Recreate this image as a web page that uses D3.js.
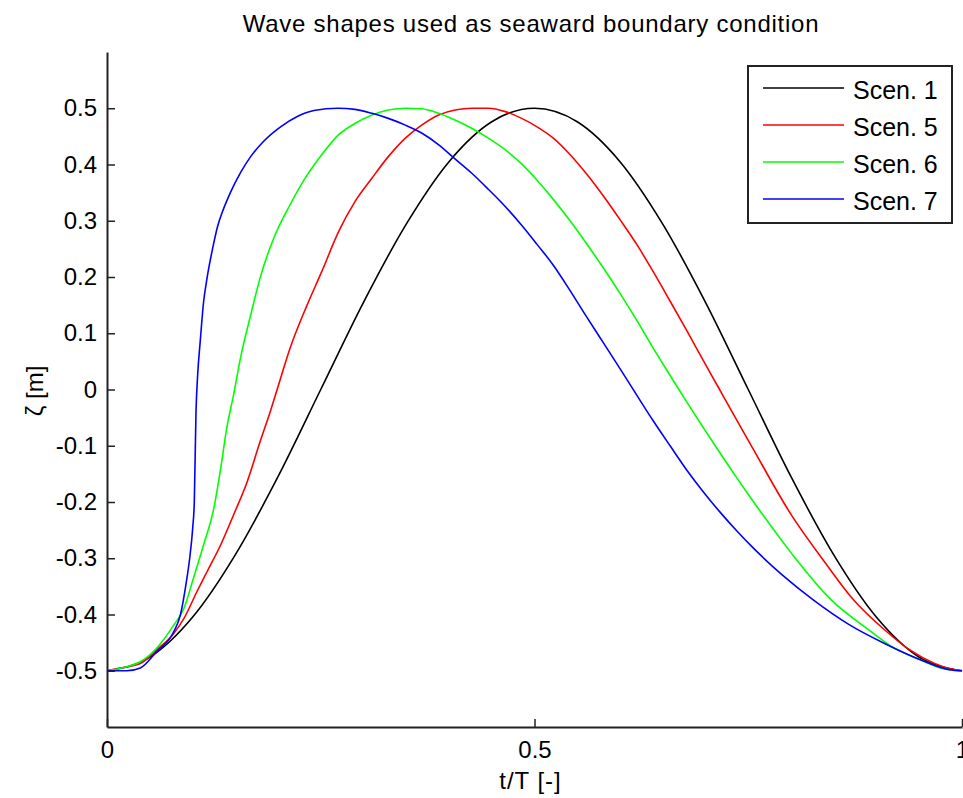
<!DOCTYPE html>
<html lang="en">
  <head>
    <meta charset="UTF-8" />
    <title>Wave shapes used as seaward boundary condition</title>
    <script src="https://d3js.org/d3.v7.min.js"></script>
    <style>
      body { margin: 0; background: #fff; }
      text { font-family: "Liberation Sans", Arial, sans-serif; fill: #000; }
    </style>
  </head>
  <body>
    <div id="viz"></div>
    <script>
      // series: [t/T, zeta]
      const scen1 = [
        [0, -0.5], [0.05, -0.476], [0.1, -0.405], [0.15, -0.294], [0.2, -0.155],
        [0.25, 0], [0.3, 0.155], [0.35, 0.294], [0.4, 0.405], [0.45, 0.476],
        [0.5, 0.5], [0.55, 0.476], [0.6, 0.405], [0.65, 0.294], [0.7, 0.155],
        [0.75, 0], [0.8, -0.155], [0.85, -0.294], [0.9, -0.405], [0.95, -0.476],
        [1, -0.5]
      ];
      const scen5 = [
        [0, -0.5], [0.012, -0.496], [0.039, -0.487], [0.058, -0.463], [0.078, -0.434],
        [0.09, -0.407], [0.105, -0.36], [0.117, -0.324], [0.133, -0.276], [0.148, -0.223],
        [0.164, -0.164], [0.179, -0.093], [0.191, -0.039], [0.199, 0], [0.214, 0.073],
        [0.234, 0.15], [0.251, 0.209], [0.271, 0.281], [0.29, 0.334], [0.31, 0.376],
        [0.329, 0.414], [0.349, 0.447], [0.368, 0.47], [0.388, 0.488], [0.407, 0.497],
        [0.427, 0.5], [0.446, 0.5], [0.466, 0.494], [0.485, 0.482], [0.503, 0.467],
        [0.522, 0.447], [0.542, 0.417], [0.561, 0.383], [0.581, 0.343], [0.6, 0.302],
        [0.62, 0.257], [0.639, 0.209], [0.659, 0.156], [0.678, 0.105], [0.698, 0.05],
        [0.715, 0.004], [0.729, -0.034], [0.745, -0.077], [0.754, -0.101], [0.8, -0.222],
        [0.84, -0.308], [0.872, -0.372], [0.91, -0.428], [0.939, -0.463], [0.968, -0.487],
        [0.985, -0.496], [1, -0.5]
      ];
      const scen6 = [
        [0, -0.5], [0.012, -0.497], [0.023, -0.493], [0.039, -0.484], [0.058, -0.46],
        [0.078, -0.419], [0.09, -0.389], [0.101, -0.336], [0.113, -0.276], [0.125, -0.211],
        [0.133, -0.14], [0.14, -0.069], [0.148, -0.01], [0.156, 0.055], [0.168, 0.132],
        [0.179, 0.198], [0.195, 0.269], [0.214, 0.328], [0.234, 0.381], [0.251, 0.417],
        [0.271, 0.453], [0.29, 0.473], [0.31, 0.488], [0.329, 0.497], [0.349, 0.5],
        [0.368, 0.499], [0.388, 0.491], [0.407, 0.479], [0.427, 0.464], [0.446, 0.447],
        [0.466, 0.426], [0.485, 0.401], [0.503, 0.372], [0.522, 0.338], [0.542, 0.299],
        [0.561, 0.259], [0.581, 0.215], [0.6, 0.171], [0.62, 0.122], [0.639, 0.073],
        [0.659, 0.024], [0.678, -0.022], [0.698, -0.069], [0.717, -0.113], [0.737, -0.158],
        [0.754, -0.195], [0.8, -0.29], [0.847, -0.374], [0.889, -0.425], [0.918, -0.457],
        [0.952, -0.481], [0.977, -0.496], [1, -0.5]
      ];
      const scen7 = [
        [0, -0.5], [0.023, -0.5], [0.039, -0.495], [0.058, -0.466], [0.078, -0.431],
        [0.0858, -0.401], [0.0924, -0.346], [0.0967, -0.3], [0.1002, -0.247], [0.1021, -0.2],
        [0.1041, -0.039], [0.106, 0.025], [0.109, 0.085], [0.113, 0.156], [0.117, 0.198],
        [0.124, 0.254], [0.129, 0.288], [0.1365, 0.322], [0.144, 0.349], [0.156, 0.385],
        [0.168, 0.414], [0.183, 0.441], [0.203, 0.467], [0.222, 0.485], [0.242, 0.496],
        [0.27, 0.5], [0.29, 0.498], [0.31, 0.491], [0.329, 0.482], [0.349, 0.47],
        [0.368, 0.456], [0.388, 0.435], [0.407, 0.41], [0.427, 0.384], [0.446, 0.356],
        [0.466, 0.325], [0.485, 0.292], [0.503, 0.258], [0.522, 0.221], [0.542, 0.175],
        [0.561, 0.129], [0.581, 0.082], [0.6, 0.037], [0.62, -0.011], [0.639, -0.056],
        [0.659, -0.101], [0.678, -0.143], [0.698, -0.183], [0.717, -0.218], [0.737, -0.252],
        [0.754, -0.279], [0.79, -0.33], [0.826, -0.374], [0.868, -0.418], [0.91, -0.452],
        [0.952, -0.481], [0.985, -0.498], [1, -0.5]
      ];

      const seriesNames = ["Scen. 1", "Scen. 5", "Scen. 6", "Scen. 7"];
      const seriesColors = ["#000000", "#ff0000", "#00ff00", "#0000ff"];
      const xTicks = [0, 0.5, 1];
      const yTicks = [-0.5, -0.4, -0.3, -0.2, -0.1, 0, 0.1, 0.2, 0.3, 0.4, 0.5];

      const width = 963, height = 798;
      const plot = { left: 107, right: 962, top: 52, bottom: 727 };

      const svg = d3.select("#viz").append("svg")
        .attr("width", width)
        .attr("height", height);

      const x = d3.scaleLinear().domain([0, 1]).range([plot.left, plot.right]);
      const y = d3.scaleLinear().domain([-0.6, 0.6]).range([plot.bottom, plot.top]);

      const fmt = d => String(+d.toFixed(1));

      // curves
      const line = d3.line()
        .x(d => x(d[0]))
        .y(d => y(d[1]))
        .curve(d3.curveMonotoneX);

      [scen1, scen5, scen6, scen7].forEach((s, i) => {
        svg.append("path")
          .datum(s)
          .attr("fill", "none")
          .attr("stroke", seriesColors[i])
          .attr("stroke-width", 1.6)
          .attr("d", line);
      });

      // axes (ticks point inward, no box)
      const yAxis = svg.append("g")
        .attr("transform", "translate(" + plot.left + ",0)")
        .call(d3.axisLeft(y).tickValues(yTicks).tickFormat(fmt)
          .tickSizeInner(-8).tickSizeOuter(0).tickPadding(10));

      const xAxis = svg.append("g")
        .attr("transform", "translate(0," + plot.bottom + ")")
        .call(d3.axisBottom(x).tickValues(xTicks).tickFormat(fmt)
          .tickSizeInner(-8).tickSizeOuter(0).tickPadding(14));

      [yAxis, xAxis].forEach(a => {
        a.select(".domain").attr("stroke", "#222").attr("stroke-width", 2);
        a.selectAll(".tick line").attr("stroke", "#222").attr("stroke-width", 1.5);
        a.selectAll(".tick text")
          .attr("font-size", 24)
          .attr("fill", "#222")
          .style("font-family", "'Liberation Sans', Arial, sans-serif");
      });

      // title and axis labels
      svg.append("text")
        .attr("x", 531)
        .attr("y", 32)
        .attr("text-anchor", "middle")
        .attr("font-size", 24)
        .style("letter-spacing", "0.75px")
        .text("Wave shapes used as seaward boundary condition");

      svg.append("text")
        .attr("x", (plot.left + plot.right) / 2 - 4)
        .attr("y", 789)
        .attr("text-anchor", "middle")
        .attr("font-size", 24)
        .style("letter-spacing", "1px")
        .text("t/T [-]");

      svg.append("text")
        .attr("transform", "translate(43,391) rotate(-90)")
        .attr("text-anchor", "middle")
        .attr("font-size", 24)
        .text("ζ [m]");

      // legend
      const legend = svg.append("g").attr("transform", "translate(748,66)");
      legend.append("rect")
        .attr("width", 204)
        .attr("height", 157)
        .attr("fill", "#fff")
        .attr("stroke", "#222")
        .attr("stroke-width", 2);

      const rowY = d3.scalePoint().domain(seriesNames).range([22, 133]);
      seriesNames.forEach((name, i) => {
        const g = legend.append("g").attr("transform", "translate(0," + rowY(name) + ")");
        g.append("line")
          .attr("x1", 15).attr("x2", 96)
          .attr("stroke", seriesColors[i])
          .attr("stroke-width", 1.6);
        g.append("text")
          .attr("x", 105)
          .attr("y", 11)
          .attr("font-size", 25)
          .text(name);
      });
    </script>
  </body>
</html>
